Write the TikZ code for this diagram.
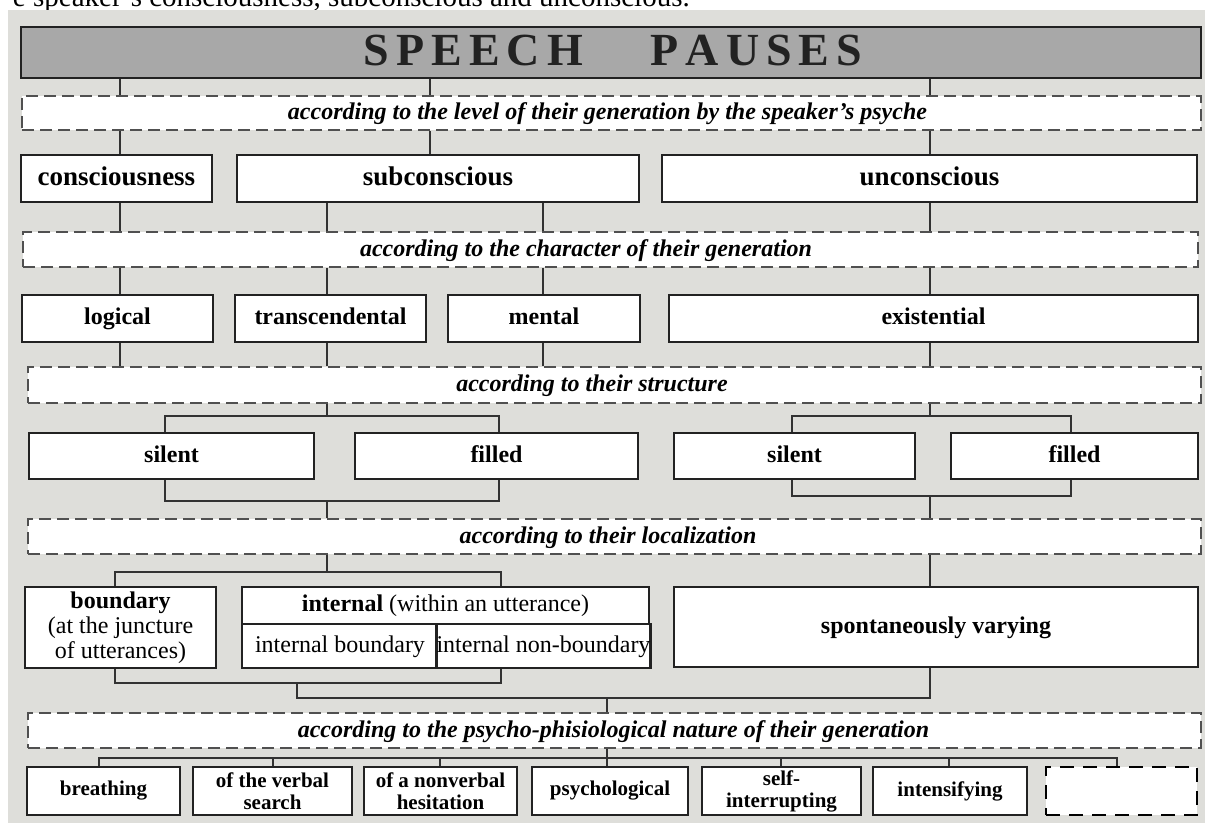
\documentclass[tikz,border=0pt]{standalone}
\usepackage{fontspec}
\setmainfont{Liberation Serif}
\definecolor{bgc}{RGB}{222,222,218}
\definecolor{titlec}{RGB}{168,168,168}
\definecolor{boxc}{RGB}{34,34,34}
\definecolor{linec}{RGB}{50,50,50}
\definecolor{dashc}{RGB}{80,80,80}
\begin{document}
\begin{tikzpicture}[x=1pt,y=-1pt,
  box/.style={draw=boxc, line width=2.6pt, fill=white, inner sep=0pt, text=black},
  dbox/.style={draw=dashc, line width=1.8pt, dash pattern=on 12pt off 6pt, fill=white, inner sep=0pt},
  ebox/.style={draw=black, line width=2.6pt, dash pattern=on 14pt off 9pt, fill=white, inner sep=0pt},
  conn/.style={draw=linec, line width=1.8pt},
  thinconn/.style={draw=linec, line width=1.4pt},
  labA/.style={font=\fontsize{27}{30}\selectfont\bfseries, text height=19pt, text depth=6pt},
  labB/.style={font=\fontsize{24}{27}\selectfont\bfseries, text height=17pt, text depth=5pt},
  labR/.style={font=\fontsize{24}{27}\selectfont, text height=17pt, text depth=5pt},
  labC/.style={font=\fontsize{21}{22}\selectfont\bfseries, align=center},
  crit/.style={font=\fontsize{24}{27}\selectfont\bfseries\itshape, inner sep=0pt, text height=17pt, text depth=6pt},
]
\useasboundingbox (0,0) rectangle (1205,823);
% page text line above the diagram
\node[anchor=base east, inner sep=0pt, font=\fontsize{29}{32}\selectfont] (pagetext) at (690,6) {e speaker’s consciousness, subconscious and unconscious.};
% background
\fill[bgc] (8,10) rectangle (1205,823);

% column coordinates
\coordinate (xa) at (120,0);
\coordinate (xb) at (430,0);
\coordinate (xc) at (930,0);
\coordinate (xd) at (327,0);
\coordinate (xe) at (543,0);
\coordinate (xf) at (165,0);
\coordinate (xg) at (499,0);
\coordinate (xh) at (792,0);
\coordinate (xi) at (1071,0);
\coordinate (xj) at (115,0);
\coordinate (xk) at (501,0);
\coordinate (xl) at (297,0);
\coordinate (xm) at (607,0);
\coordinate (xn) at (99,0);
\coordinate (xo1) at (273,0);
\coordinate (xo2) at (440,0);
\coordinate (xo3) at (781,0);
\coordinate (xo4) at (949,0);
\coordinate (xq) at (1117,0);
% bracket levels
\coordinate (y1) at (0,416);
\coordinate (y2) at (0,501);
\coordinate (y2r) at (0,496);
\coordinate (y3) at (0,572);
\coordinate (y4) at (0,683);
\coordinate (y5) at (0,698);
\coordinate (y6) at (0,758);

% title
\node[box, fill=titlec, minimum width=1180pt, minimum height=51pt] (title) at (611,52.5) {};
\node[anchor=base, inner sep=0pt, font=\fontsize{46}{50}\selectfont\bfseries, text=boxc] (ttext) at (613,65)
  {S\kern7pt P\kern7pt E\kern7pt E\kern7pt C\kern7pt H\kern68pt P\kern7pt A\kern7pt U\kern7pt S\kern7pt E\kern7pt S};

% criterion 1
\node[dbox, minimum width=1179pt, minimum height=34pt] (d1) at (611.5,113) {};
\node[crit] (t1) at (607.5,114) {according to the level of their generation by the speaker’s psyche};

% row 1
\node[box, labA, minimum width=191pt, minimum height=47pt] (cons) at (116.5,178.5) {consciousness};
\node[box, labA, minimum width=402pt, minimum height=47pt] (sub) at (438,178.5) {subconscious};
\node[box, labA, minimum width=535pt, minimum height=47pt] (uncon) at (929.5,178.5) {unconscious};

% criterion 2
\node[dbox, minimum width=1175pt, minimum height=35pt] (d2) at (610.5,249.5) {};
\node[crit] (t2) at (586,250.5) {according to the character of their generation};

% row 2
\node[box, labB, minimum width=191pt, minimum height=47pt] (logic) at (117.5,318.5) {logical};
\node[box, labB, minimum width=191pt, minimum height=47pt] (trans) at (330.5,318.5) {transcendental};
\node[box, labB, minimum width=192pt, minimum height=47pt] (mental) at (544,318.5) {mental};
\node[box, labB, minimum width=529pt, minimum height=47pt] (exist) at (933.5,318.5) {existential};

% criterion 3
\node[dbox, minimum width=1173pt, minimum height=36pt] (d3) at (614.5,385) {};
\node[crit] (t3) at (592,386) {according to their structure};

% row 3
\node[box, labB, minimum width=285pt, minimum height=46pt] (silL) at (171.5,456) {silent};
\node[box, labB, minimum width=283pt, minimum height=46pt] (filL) at (496.5,456) {filled};
\node[box, labB, minimum width=241pt, minimum height=46pt] (silR) at (794.5,456) {silent};
\node[box, labB, minimum width=247pt, minimum height=46pt] (filR) at (1074.5,456) {filled};

% criterion 4
\node[dbox, minimum width=1173pt, minimum height=35pt] (d4) at (614.5,536.5) {};
\node[crit] (t4) at (608,537.5) {according to their localization};

% row 4
\node[box, align=center, font=\fontsize{24}{25}\selectfont, minimum width=191pt, minimum height=81pt] (bound) at (120.5,627.5)
  {\textbf{boundary}\\(at the juncture\\of utterances)};
\node[box, labR, minimum width=407pt, minimum height=37pt] (intT) at (445.5,605.5) {\textbf{internal} (within an utterance)};
\node[box, labR, minimum width=196pt, minimum height=44pt] (intB1) at (340,646) {internal boundary};
\node[box, labR, minimum width=211pt, minimum height=44pt] (intB2) at (543.5,646) {internal non-boundary};
\node[box, labB, minimum width=524pt, minimum height=80pt] (spont) at (936,627) {spontaneously varying};

% criterion 5
\node[dbox, minimum width=1173pt, minimum height=35pt] (d5) at (614.5,730.5) {};
\node[crit] (t5) at (613.5,731.5) {according to the psycho-phisiological nature of their generation};

% row 5
\node[box, labC, minimum width=153pt, minimum height=48pt] (breath) at (103.5,791) {breathing};
\node[box, labC, minimum width=159pt, minimum height=48pt] (verbal) at (272.5,791) {of the verbal\\search};
\node[box, labC, minimum width=153pt, minimum height=48pt] (nonverb) at (440.5,791) {of a nonverbal\\hesitation};
\node[box, labC, minimum width=156pt, minimum height=48pt] (psych) at (610,791) {psychological};
\node[box, labC, minimum width=159pt, minimum height=48pt] (selfint) at (781.5,791) {self-\\interrupting};
\node[box, labC, minimum width=154pt, minimum height=48pt] (intens) at (950,791) {intensifying};
\node[ebox, minimum width=151pt, minimum height=48pt] (empty) at (1121.5,791) {};

% connectors: title -> criterion 1 -> row 1
\draw[conn] (title.south -| xa) -- (d1.north -| xa);
\draw[conn] (title.south -| xb) -- (d1.north -| xb);
\draw[conn] (title.south -| xc) -- (d1.north -| xc);
\draw[conn] (d1.south -| xa) -- (cons.north -| xa);
\draw[conn] (d1.south -| xb) -- (sub.north -| xb);
\draw[conn] (d1.south -| xc) -- (uncon.north -| xc);
% row 1 -> criterion 2 -> row 2
\draw[conn] (cons.south -| xa) -- (d2.north -| xa);
\draw[conn] (sub.south -| xd) -- (d2.north -| xd);
\draw[conn] (sub.south -| xe) -- (d2.north -| xe);
\draw[conn] (uncon.south -| xc) -- (d2.north -| xc);
\draw[conn] (d2.south -| xa) -- (logic.north -| xa);
\draw[conn] (d2.south -| xd) -- (trans.north -| xd);
\draw[conn] (d2.south -| xe) -- (mental.north -| xe);
\draw[conn] (d2.south -| xc) -- (exist.north -| xc);
% row 2 -> criterion 3
\draw[conn] (logic.south -| xa) -- (d3.north -| xa);
\draw[conn] (trans.south -| xd) -- (d3.north -| xd);
\draw[conn] (mental.south -| xe) -- (d3.north -| xe);
\draw[conn] (exist.south -| xc) -- (d3.north -| xc);
% criterion 3 -> row 3 brackets
\draw[conn] (d3.south -| xd) -- (y1 -| xd);
\draw[conn] (silL.north -| xf) |- (y1 -| xg) -- (filL.north -| xg);
\draw[conn] (d3.south -| xc) -- (y1 -| xc);
\draw[conn] (silR.north -| xh) |- (y1 -| xi) -- (filR.north -| xi);
% row 3 -> criterion 4
\draw[conn] (silL.south -| xf) |- (y2 -| xg) -- (filL.south -| xg);
\draw[conn] (y2 -| xd) -- (d4.north -| xd);
\draw[conn] (silR.south -| xh) |- (y2r -| xi) -- (filR.south -| xi);
\draw[conn] (y2r -| xc) -- (d4.north -| xc);
% criterion 4 -> row 4
\draw[conn] (d4.south -| xd) -- (y3 -| xd);
\draw[conn] (bound.north -| xj) |- (y3 -| xk) -- (intT.north -| xk);
\draw[conn] (d4.south -| xc) -- (spont.north -| xc);
% row 4 -> criterion 5
\draw[conn] (bound.south -| xj) |- (y4 -| xk) -- (intB2.south -| xk);
\draw[conn] (y4 -| xl) |- (y5 -| xc) -- (spont.south -| xc);
\draw[conn] (y5 -| xm) -- (d5.north -| xm);
% criterion 5 -> row 5
\draw[conn] (d5.south -| xm) -- (psych.north -| xm);
\draw[thinconn] (breath.north -| xn) |- (y6 -| xq) -- (empty.north -| xq);
\draw[thinconn] (y6 -| xo1) -- (verbal.north -| xo1);
\draw[thinconn] (y6 -| xo2) -- (nonverb.north -| xo2);
\draw[thinconn] (y6 -| xo3) -- (selfint.north -| xo3);
\draw[thinconn] (y6 -| xo4) -- (intens.north -| xo4);
\end{tikzpicture}
\end{document}
